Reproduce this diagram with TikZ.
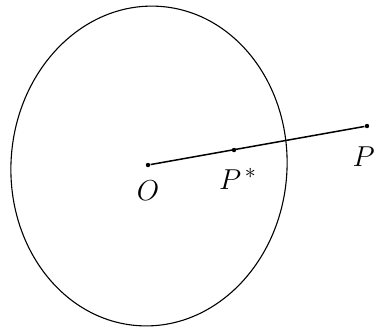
\documentclass[tikz,border=0pt]{standalone}
\begin{document}
\begin{tikzpicture}[x=0.5pt,y=-0.5pt,
  pt/.style={circle,fill=black,inner sep=0pt,minimum size=2.2pt},
  lbl/.style={inner sep=0pt,font=\fontsize{15}{18}\selectfont}]
\useasboundingbox (0,0) rectangle (376,329);
\draw[line width=0.55pt,rotate around={-4:(149,166)}] (149,166) ellipse [x radius=138, y radius=160];
\node[pt] (O) at (148,165) {};
\node[pt] (Ps) at (234,150) {};
\node[pt] (P) at (367,126) {};
\draw[line width=0.75pt] (O) -- (P);
\node[lbl] (lO) at (148,191) {$O$};
\node[lbl] (lPs) at (238,179) {$P^{\,*}$};
\node[lbl,anchor=east] (lP) at (375,157) {$P$};
\end{tikzpicture}
\end{document}
